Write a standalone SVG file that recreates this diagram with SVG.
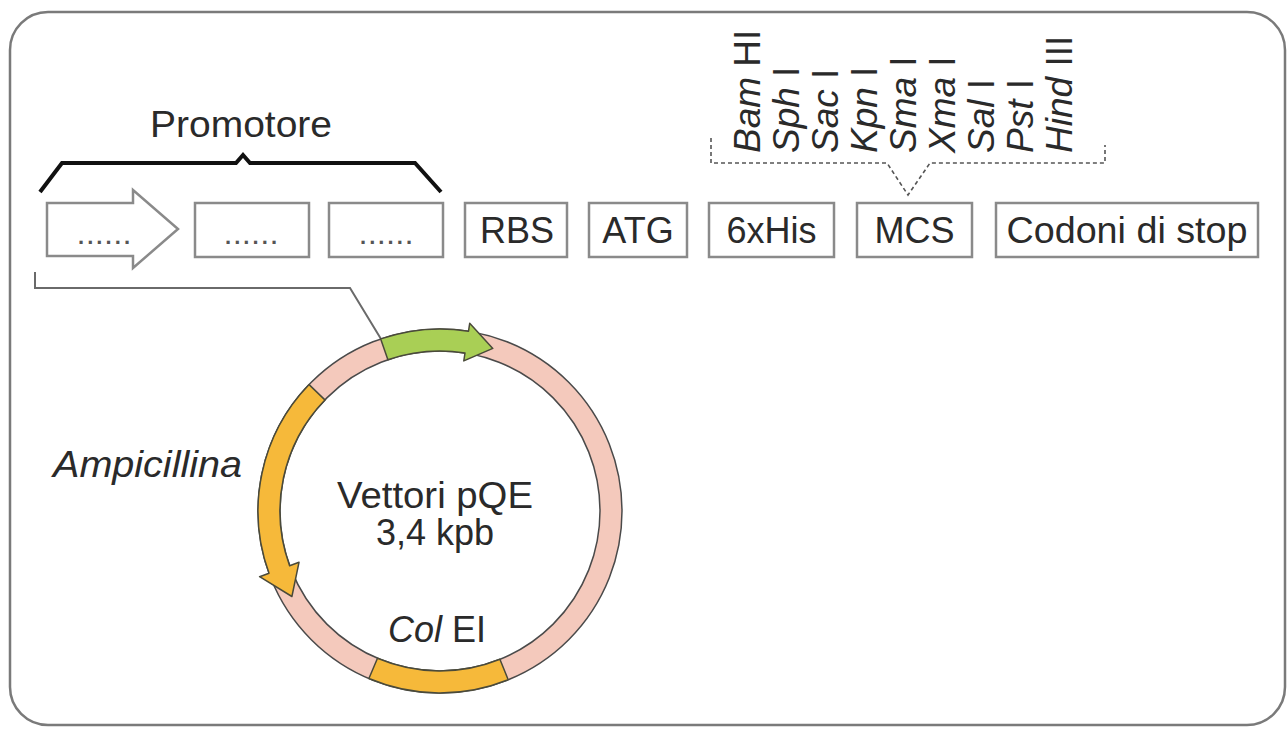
<svg xmlns="http://www.w3.org/2000/svg" width="1287" height="735" viewBox="0 0 1287 735">
<style>
  text { font-family: "Liberation Sans", Arial, sans-serif; fill: #2a2a2a; }
  .lbl { font-size: 36px; }
  .enz { font-size: 37px; }
  .mid { text-anchor: middle; }
  .it { font-style: italic; }
  .box { fill: #fff; stroke: #8a8a8a; stroke-width: 2.5; }
  .dots { font-size: 22px; font-weight: bold; text-anchor: middle; fill: #555; }
  .seg { stroke: #4a4a3a; stroke-width: 1.5; stroke-linejoin: round; }
</style>
<rect x="0" y="0" width="1287" height="735" fill="#fff"/>
<rect id="frame" x="10" y="12" width="1275" height="713" rx="38" ry="38" fill="#fff" stroke="#7a7a7a" stroke-width="2.5"/>

<g id="connectors">
  <path d="M40 192 L62 163 L236 163 L243 155 L250 163 L415 163 L441 192" fill="none" stroke="#111" stroke-width="4" stroke-linejoin="miter"/>
  <path d="M35 272 L35 288 L350 288 L381 339" fill="none" stroke="#6a6a6a" stroke-width="2"/>
  <path d="M711 138 L711 163 L887 163 L908 195 L930 163 L1105 163 L1105 145" fill="none" stroke="#555" stroke-width="1.6" stroke-dasharray="4 3"/>
</g>

<g id="promotore">
  <text class="lbl mid" x="241" y="137" textLength="182" lengthAdjust="spacingAndGlyphs">Promotore</text>
</g>

<g id="box-arrow">
  <polygon class="box" points="47,203 133,203 133,190 178,229 133,268 133,256 47,256"/>
  <text class="dots" x="104" y="244" textLength="52" lengthAdjust="spacing">......</text>
</g>
<g id="box-2">
  <rect class="box" x="195" y="203" width="114" height="54"/>
  <text class="dots" x="251" y="244" textLength="52" lengthAdjust="spacing">......</text>
</g>
<g id="box-3">
  <rect class="box" x="329" y="203" width="114" height="54"/>
  <text class="dots" x="386" y="244" textLength="52" lengthAdjust="spacing">......</text>
</g>
<g id="rbs">
  <rect class="box" x="465" y="203" width="102" height="54"/>
  <text class="lbl mid" x="517" y="243">RBS</text>
</g>
<g id="atg">
  <rect class="box" x="589" y="203" width="98" height="54"/>
  <text class="lbl mid" x="638" y="243">ATG</text>
</g>
<g id="his">
  <rect class="box" x="709" y="203" width="125" height="54"/>
  <text class="lbl mid" x="771.5" y="243">6xHis</text>
</g>
<g id="mcs">
  <rect class="box" x="857" y="203" width="115" height="54"/>
  <text class="lbl mid" x="914.5" y="243">MCS</text>
</g>
<g id="stop">
  <rect class="box" x="996" y="203" width="262" height="54"/>
  <text class="lbl mid" x="1127" y="243" textLength="241" lengthAdjust="spacingAndGlyphs">Codoni di stop</text>
</g>

<g id="enzymes" class="enz">
  <text transform="translate(760,153) rotate(-90)"><tspan class="it">Bam</tspan> HI</text>
  <text transform="translate(799,153) rotate(-90)"><tspan class="it">Sph</tspan> I</text>
  <text transform="translate(838,153) rotate(-90)"><tspan class="it">Sac</tspan> I</text>
  <text transform="translate(877,153) rotate(-90)"><tspan class="it">Kpn</tspan> I</text>
  <text transform="translate(916,153) rotate(-90)"><tspan class="it">Sma</tspan> I</text>
  <text transform="translate(955,153) rotate(-90)"><tspan class="it">Xma</tspan> I</text>
  <text transform="translate(994,153) rotate(-90)"><tspan class="it">Sal</tspan> I</text>
  <text transform="translate(1033,153) rotate(-90)"><tspan class="it">Pst</tspan> I</text>
  <text transform="translate(1072,153) rotate(-90)"><tspan class="it">Hind</tspan> III</text>
</g>

<g id="plasmid">
  <circle cx="440" cy="511" r="171" fill="none" stroke="#f4c9bc" stroke-width="22"/>
  <circle cx="440" cy="511" r="182" fill="none" stroke="#4a4a4a" stroke-width="1.5"/>
  <circle cx="440" cy="511" r="160" fill="none" stroke="#4a4a4a" stroke-width="1.5"/>
  <path class="seg" fill="#a9cf55" d="M380.7 338.9 A182 182 0 0 1 468.5 331.2 L469.7 323.3 L492.8 348.4 L463.8 360.9 L465.0 353.0 A160 160 0 0 0 387.9 359.7 Z"/>
  <path class="seg" fill="#f6b93a" d="M309.1 384.6 A182 182 0 0 0 269.0 573.2 L259.6 576.7 L291.9 596.5 L299.0 562.3 L289.6 565.7 A160 160 0 0 1 324.9 399.9 Z"/>
  <path class="seg" fill="#f6b93a" d="M508.2 679.7 A182 182 0 0 1 368.9 678.5 L377.5 658.3 A160 160 0 0 0 499.9 659.3 Z"/>
  <text class="lbl mid" x="435" y="508" textLength="196" lengthAdjust="spacingAndGlyphs">Vettori pQE</text>
  <text class="lbl mid" x="435" y="545">3,4 kpb</text>
  <text class="lbl mid" x="437" y="642"><tspan class="it">Col</tspan> EI</text>
</g>

<g id="ampicillina">
  <text class="lbl it" x="53" y="477" textLength="189" lengthAdjust="spacingAndGlyphs">Ampicillina</text>
</g>
</svg>
